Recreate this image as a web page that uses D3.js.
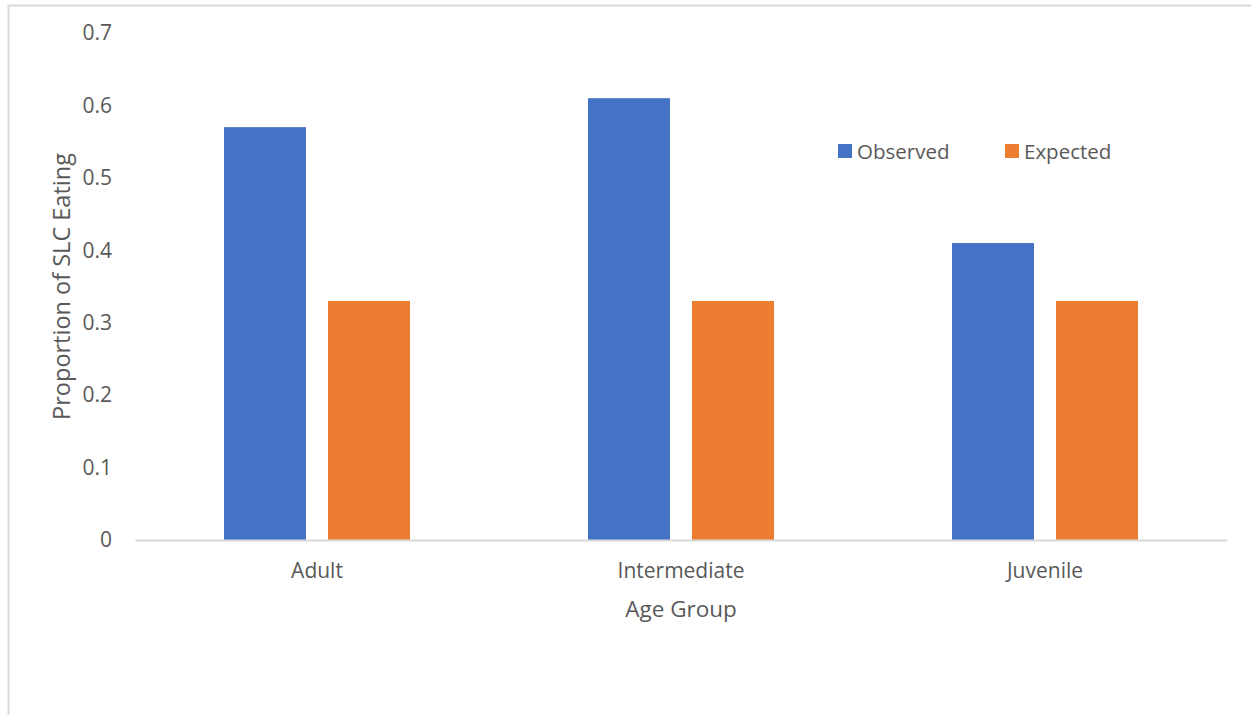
<!DOCTYPE html>
<html>
<head>
<meta charset="utf-8">
<script src="https://cdn.jsdelivr.net/npm/d3@7"></script>
<style>
  html, body { margin: 0; padding: 0; background: #fff; }
  svg { display: block; }
  text { font-family: "Open Sans", "Noto Sans", sans-serif; fill: #595959; }
</style>
</head>
<body>
<svg id="chart" width="1251" height="715"></svg>
<script>
const categories = ['Adult', 'Intermediate', 'Juvenile'];
const seriesNames = ['Observed', 'Expected'];
const observed = [0.57, 0.61, 0.41];
const expected = [0.33, 0.33, 0.33];
const yTicks = [0, 0.1, 0.2, 0.3, 0.4, 0.5, 0.6, 0.7];
const colors = ['#4472c4', '#ed7d31'];

function renderChart() {
  const svg = d3.select('#chart');
  const width = 1251, height = 715;
  const margin = {top: 33, right: 24, bottom: 175, left: 135};
  const chartWidth = width - margin.left - margin.right;
  const chartHeight = height - margin.top - margin.bottom;

  // outer chart border
  svg.append('rect')
    .attr('x', 8.5).attr('y', 5.5)
    .attr('width', width).attr('height', height)
    .attr('fill', 'none')
    .attr('stroke', '#d9d9d9')
    .attr('stroke-width', 2);

  const g = svg.append('g').attr('transform', `translate(${margin.left},${margin.top})`);

  // scales
  const x0 = d3.scaleBand().domain(categories).range([0, chartWidth]).padding(0);
  const groupWidth = 186;
  const x1 = d3.scaleBand().domain(seriesNames)
    .range([(x0.bandwidth() - groupWidth) / 2, (x0.bandwidth() + groupWidth) / 2])
    .paddingInner(22 / 104);
  const y = d3.scaleLinear().domain([0, 0.7]).range([chartHeight, 0]);

  const rows = categories.map((c, i) => ({cat: c, values: [observed[i], expected[i]]}));

  // bars
  const groups = g.selectAll('.grp')
    .data(rows)
    .enter()
    .append('g')
    .attr('class', 'grp')
    .attr('transform', d => `translate(${x0(d.cat)},0)`);

  groups.selectAll('rect')
    .data(d => d.values.map((v, j) => ({name: seriesNames[j], value: v, j})))
    .enter()
    .append('rect')
    .attr('x', d => x1(d.name))
    .attr('y', d => y(d.value))
    .attr('width', x1.bandwidth())
    .attr('height', d => chartHeight - y(d.value))
    .attr('fill', d => colors[d.j]);

  // X axis
  const xAxis = g.append('g')
    .attr('transform', `translate(0,${chartHeight})`)
    .call(d3.axisBottom(x0).tickSize(0).tickPadding(23));
  xAxis.select('.domain').attr('stroke', '#d9d9d9').attr('stroke-width', 2);
  xAxis.selectAll('text').attr('font-size', 21).attr('fill', '#595959');

  // Y axis (labels only)
  const yAxis = g.append('g')
    .call(d3.axisLeft(y).tickValues(yTicks).tickSize(0).tickPadding(23)
      .tickFormat(d => d === 0 ? '0' : d3.format('.1f')(d)));
  yAxis.select('.domain').remove();
  yAxis.selectAll('text').attr('font-size', 21).attr('fill', '#595959');

  // axis titles
  svg.append('text')
    .attr('x', margin.left + chartWidth / 2)
    .attr('y', 617)
    .attr('text-anchor', 'middle')
    .attr('font-size', 22.5)
    .text('Age Group');

  svg.append('text')
    .attr('transform', `translate(70,${margin.top + chartHeight / 2}) rotate(-90)`)
    .attr('text-anchor', 'middle')
    .attr('font-size', 23.5)
    .text('Proportion of SLC Eating');

  // legend
  const legendX = [838, 1005];
  const legend = svg.selectAll('.legend')
    .data(seriesNames)
    .enter()
    .append('g')
    .attr('class', 'legend')
    .attr('transform', (d, i) => `translate(${legendX[i]},144)`);
  legend.append('rect')
    .attr('width', 14).attr('height', 14)
    .attr('fill', (d, i) => colors[i]);
  legend.append('text')
    .attr('x', 19).attr('y', 8)
    .attr('dy', '0.35em')
    .attr('font-size', 20.5)
    .text(d => d);
}

renderChart();
</script>
</body>
</html>
